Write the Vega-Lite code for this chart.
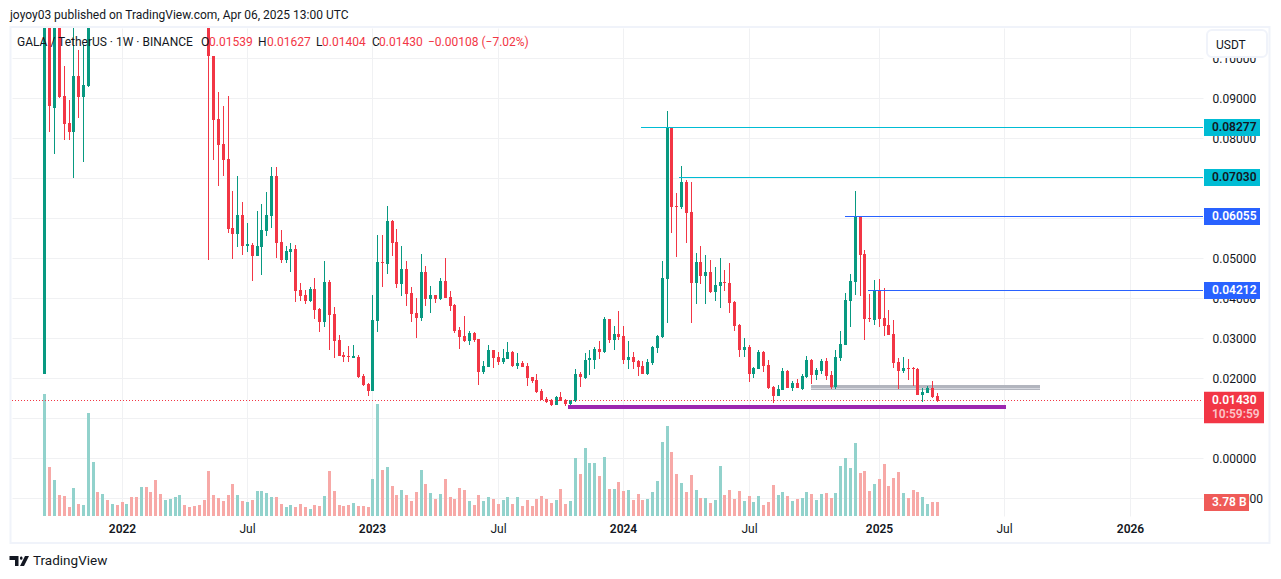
{"$schema":"https://vega.github.io/schema/vega-lite/v6.json","width":1191,"height":488,"padding":{"left":12,"top":28,"right":78,"bottom":63},"autosize":{"type":"none"},"background":"#ffffff","config":{"font":"Roboto","view":{"stroke":null}},
"datasets":{"bars":[
{"d":"2021-09-13","o":0.0211,"h":0.27,"l":0.0211,"c":0.25,"v":32.9},
{"d":"2021-09-20","o":0.25,"h":0.28,"l":0.0814,"c":0.0879,"v":13.2},
{"d":"2021-09-27","o":0.0876,"h":0.2,"l":0.0761,"c":0.16,"v":9.7},
{"d":"2021-10-04","o":0.16,"h":0.18,"l":0.09,"c":0.0902,"v":5.7},
{"d":"2021-10-11","o":0.0906,"h":0.0979,"l":0.0796,"c":0.0836,"v":5.4},
{"d":"2021-10-18","o":0.0838,"h":0.0894,"l":0.0796,"c":0.0816,"v":2.4},
{"d":"2021-10-25","o":0.0816,"h":0.115,"l":0.0699,"c":0.0956,"v":7.6},
{"d":"2021-11-01","o":0.0956,"h":0.1021,"l":0.0851,"c":0.0903,"v":3.2},
{"d":"2021-11-08","o":0.0903,"h":0.1033,"l":0.0741,"c":0.0933,"v":3.0},
{"d":"2021-11-15","o":0.0931,"h":0.32,"l":0.0928,"c":0.3,"v":27.8},
{"d":"2021-11-22","o":0.3,"h":0.7,"l":0.28,"c":0.6,"v":14.6},
{"d":"2021-11-29","o":0.6,"h":0.65,"l":0.45,"c":0.5,"v":6.5},
{"d":"2021-12-06","o":0.5,"h":0.7,"l":0.45,"c":0.65,"v":5.9},
{"d":"2021-12-13","o":0.65,"h":0.68,"l":0.5,"c":0.55,"v":4.3},
{"d":"2021-12-20","o":0.55,"h":0.66,"l":0.5,"c":0.6,"v":3.2},
{"d":"2021-12-27","o":0.6,"h":0.62,"l":0.45,"c":0.5,"v":3.0},
{"d":"2022-01-03","o":0.5,"h":0.52,"l":0.38,"c":0.4,"v":3.8},
{"d":"2022-01-10","o":0.4,"h":0.47,"l":0.38,"c":0.44,"v":3.2},
{"d":"2022-01-17","o":0.44,"h":0.46,"l":0.36,"c":0.38,"v":5.1},
{"d":"2022-01-24","o":0.38,"h":0.39,"l":0.27,"c":0.3,"v":5.1},
{"d":"2022-01-31","o":0.3,"h":0.38,"l":0.28,"c":0.36,"v":7.8},
{"d":"2022-02-07","o":0.36,"h":0.38,"l":0.29,"c":0.3,"v":7.8},
{"d":"2022-02-14","o":0.3,"h":0.32,"l":0.26,"c":0.27,"v":6.5},
{"d":"2022-02-21","o":0.27,"h":0.28,"l":0.2,"c":0.22,"v":9.7},
{"d":"2022-02-28","o":0.22,"h":0.24,"l":0.19,"c":0.2,"v":5.9},
{"d":"2022-03-07","o":0.2,"h":0.23,"l":0.19,"c":0.22,"v":4.3},
{"d":"2022-03-14","o":0.22,"h":0.25,"l":0.21,"c":0.24,"v":4.6},
{"d":"2022-03-21","o":0.24,"h":0.27,"l":0.23,"c":0.26,"v":5.1},
{"d":"2022-03-28","o":0.26,"h":0.31,"l":0.25,"c":0.29,"v":5.7},
{"d":"2022-04-04","o":0.29,"h":0.3,"l":0.26,"c":0.27,"v":3.0},
{"d":"2022-04-11","o":0.27,"h":0.28,"l":0.24,"c":0.25,"v":2.4},
{"d":"2022-04-18","o":0.25,"h":0.26,"l":0.22,"c":0.23,"v":2.7},
{"d":"2022-04-25","o":0.23,"h":0.24,"l":0.2,"c":0.21,"v":3.0},
{"d":"2022-05-02","o":0.21,"h":0.22,"l":0.18,"c":0.19,"v":4.3},
{"d":"2022-05-09","o":0.19,"h":0.2,"l":0.0496,"c":0.1004,"v":12.2},
{"d":"2022-05-16","o":0.1006,"h":0.1006,"l":0.0746,"c":0.0846,"v":5.7},
{"d":"2022-05-23","o":0.0848,"h":0.0916,"l":0.0679,"c":0.0783,"v":4.9},
{"d":"2022-05-30","o":0.0786,"h":0.0881,"l":0.0706,"c":0.0746,"v":4.1},
{"d":"2022-06-06","o":0.0748,"h":0.0906,"l":0.0562,"c":0.0572,"v":5.7},
{"d":"2022-06-13","o":0.0576,"h":0.0668,"l":0.0498,"c":0.0561,"v":8.6},
{"d":"2022-06-20","o":0.0561,"h":0.0706,"l":0.0528,"c":0.0608,"v":5.7},
{"d":"2022-06-27","o":0.0608,"h":0.0641,"l":0.0508,"c":0.0531,"v":4.1},
{"d":"2022-07-04","o":0.0531,"h":0.0588,"l":0.0516,"c":0.0534,"v":3.8},
{"d":"2022-07-11","o":0.0533,"h":0.0537,"l":0.0443,"c":0.0506,"v":4.3},
{"d":"2022-07-18","o":0.0506,"h":0.0618,"l":0.0506,"c":0.0531,"v":6.8},
{"d":"2022-07-25","o":0.0528,"h":0.0636,"l":0.0458,"c":0.0571,"v":6.8},
{"d":"2022-08-01","o":0.0568,"h":0.0666,"l":0.0556,"c":0.0608,"v":6.2},
{"d":"2022-08-08","o":0.0606,"h":0.0728,"l":0.0576,"c":0.0706,"v":5.1},
{"d":"2022-08-15","o":0.0706,"h":0.0728,"l":0.0501,"c":0.0538,"v":5.1},
{"d":"2022-08-22","o":0.0541,"h":0.0571,"l":0.0488,"c":0.0496,"v":3.2},
{"d":"2022-08-29","o":0.0496,"h":0.0531,"l":0.0488,"c":0.0518,"v":2.4},
{"d":"2022-09-05","o":0.0516,"h":0.0538,"l":0.0466,"c":0.0523,"v":3.0},
{"d":"2022-09-12","o":0.0523,"h":0.0533,"l":0.0391,"c":0.0418,"v":2.4},
{"d":"2022-09-19","o":0.0421,"h":0.0438,"l":0.0393,"c":0.0406,"v":3.2},
{"d":"2022-09-26","o":0.0408,"h":0.0421,"l":0.0386,"c":0.0393,"v":2.4},
{"d":"2022-10-03","o":0.0393,"h":0.0428,"l":0.0391,"c":0.0423,"v":1.9},
{"d":"2022-10-10","o":0.0423,"h":0.0451,"l":0.0348,"c":0.0371,"v":3.0},
{"d":"2022-10-17","o":0.0373,"h":0.0376,"l":0.0316,"c":0.0341,"v":2.7},
{"d":"2022-10-24","o":0.0341,"h":0.0493,"l":0.0328,"c":0.0441,"v":5.4},
{"d":"2022-10-31","o":0.0441,"h":0.0446,"l":0.0271,"c":0.0358,"v":12.2},
{"d":"2022-11-07","o":0.0361,"h":0.0378,"l":0.0251,"c":0.0293,"v":6.8},
{"d":"2022-11-14","o":0.0296,"h":0.0308,"l":0.0256,"c":0.0256,"v":3.0},
{"d":"2022-11-21","o":0.0258,"h":0.0266,"l":0.0241,"c":0.0253,"v":2.7},
{"d":"2022-11-28","o":0.0256,"h":0.0281,"l":0.0241,"c":0.0253,"v":3.0},
{"d":"2022-12-05","o":0.0251,"h":0.0283,"l":0.0251,"c":0.0254,"v":3.5},
{"d":"2022-12-12","o":0.0253,"h":0.0258,"l":0.0201,"c":0.0203,"v":2.7},
{"d":"2022-12-19","o":0.0206,"h":0.0211,"l":0.0181,"c":0.0183,"v":2.7},
{"d":"2022-12-26","o":0.0186,"h":0.0188,"l":0.0156,"c":0.0168,"v":2.4},
{"d":"2023-01-02","o":0.0168,"h":0.0408,"l":0.0168,"c":0.0346,"v":10.0},
{"d":"2023-01-09","o":0.0343,"h":0.0558,"l":0.0316,"c":0.0491,"v":30.2},
{"d":"2023-01-16","o":0.0491,"h":0.0558,"l":0.0428,"c":0.0488,"v":12.4},
{"d":"2023-01-23","o":0.0486,"h":0.0631,"l":0.0461,"c":0.0593,"v":13.2},
{"d":"2023-01-30","o":0.0593,"h":0.0596,"l":0.0506,"c":0.0538,"v":8.1},
{"d":"2023-02-06","o":0.0541,"h":0.0573,"l":0.0426,"c":0.0436,"v":5.7},
{"d":"2023-02-13","o":0.0436,"h":0.0531,"l":0.0406,"c":0.0473,"v":7.0},
{"d":"2023-02-20","o":0.0473,"h":0.0493,"l":0.0381,"c":0.0411,"v":5.7},
{"d":"2023-02-27","o":0.0413,"h":0.0428,"l":0.0341,"c":0.0361,"v":4.1},
{"d":"2023-03-06","o":0.0363,"h":0.0401,"l":0.0301,"c":0.0351,"v":6.5},
{"d":"2023-03-13","o":0.0351,"h":0.0511,"l":0.0343,"c":0.0466,"v":12.4},
{"d":"2023-03-20","o":0.0466,"h":0.0481,"l":0.0381,"c":0.0398,"v":8.6},
{"d":"2023-03-27","o":0.0398,"h":0.0431,"l":0.0363,"c":0.0408,"v":6.2},
{"d":"2023-04-03","o":0.0408,"h":0.0408,"l":0.0388,"c":0.0398,"v":4.6},
{"d":"2023-04-10","o":0.0398,"h":0.0451,"l":0.0396,"c":0.0443,"v":5.9},
{"d":"2023-04-17","o":0.0443,"h":0.0501,"l":0.0401,"c":0.0401,"v":10.0},
{"d":"2023-04-24","o":0.0403,"h":0.0418,"l":0.0368,"c":0.0381,"v":5.1},
{"d":"2023-05-01","o":0.0383,"h":0.0386,"l":0.0313,"c":0.0318,"v":4.6},
{"d":"2023-05-08","o":0.0321,"h":0.0328,"l":0.0273,"c":0.0303,"v":7.6},
{"d":"2023-05-15","o":0.0306,"h":0.0356,"l":0.0291,"c":0.0293,"v":7.0},
{"d":"2023-05-22","o":0.0293,"h":0.0318,"l":0.0283,"c":0.0313,"v":4.1},
{"d":"2023-05-29","o":0.0313,"h":0.0316,"l":0.0291,"c":0.0296,"v":3.0},
{"d":"2023-06-05","o":0.0298,"h":0.0298,"l":0.0183,"c":0.0216,"v":5.7},
{"d":"2023-06-12","o":0.0216,"h":0.0243,"l":0.0211,"c":0.0231,"v":4.1},
{"d":"2023-06-19","o":0.0228,"h":0.0283,"l":0.0228,"c":0.0271,"v":5.1},
{"d":"2023-06-26","o":0.0271,"h":0.0271,"l":0.0226,"c":0.0251,"v":4.6},
{"d":"2023-07-03","o":0.0253,"h":0.0266,"l":0.0233,"c":0.0241,"v":3.2},
{"d":"2023-07-10","o":0.0241,"h":0.0273,"l":0.0236,"c":0.0251,"v":4.3},
{"d":"2023-07-17","o":0.0248,"h":0.0291,"l":0.0248,"c":0.0266,"v":5.1},
{"d":"2023-07-24","o":0.0266,"h":0.0268,"l":0.0228,"c":0.0231,"v":3.2},
{"d":"2023-07-31","o":0.0231,"h":0.0263,"l":0.0223,"c":0.0238,"v":5.1},
{"d":"2023-08-07","o":0.0238,"h":0.0243,"l":0.0228,"c":0.0228,"v":2.7},
{"d":"2023-08-14","o":0.0231,"h":0.0238,"l":0.0181,"c":0.0201,"v":4.3},
{"d":"2023-08-21","o":0.0203,"h":0.0203,"l":0.0188,"c":0.0193,"v":2.7},
{"d":"2023-08-28","o":0.0196,"h":0.0211,"l":0.0163,"c":0.0166,"v":4.6},
{"d":"2023-09-04","o":0.0168,"h":0.0173,"l":0.0146,"c":0.0146,"v":5.4},
{"d":"2023-09-11","o":0.0148,"h":0.0153,"l":0.0138,"c":0.0141,"v":4.6},
{"d":"2023-09-18","o":0.0146,"h":0.0148,"l":0.0131,"c":0.0133,"v":3.5},
{"d":"2023-09-25","o":0.0133,"h":0.0156,"l":0.0133,"c":0.0153,"v":4.3},
{"d":"2023-10-02","o":0.0153,"h":0.0166,"l":0.0143,"c":0.0143,"v":7.3},
{"d":"2023-10-09","o":0.0146,"h":0.0148,"l":0.0131,"c":0.0136,"v":3.2},
{"d":"2023-10-16","o":0.0136,"h":0.0146,"l":0.0128,"c":0.0146,"v":4.1},
{"d":"2023-10-23","o":0.0143,"h":0.0223,"l":0.0141,"c":0.0211,"v":15.7},
{"d":"2023-10-30","o":0.0211,"h":0.0216,"l":0.0178,"c":0.0203,"v":11.3},
{"d":"2023-11-06","o":0.0201,"h":0.0263,"l":0.0198,"c":0.0246,"v":18.4},
{"d":"2023-11-13","o":0.0246,"h":0.0271,"l":0.0208,"c":0.0249,"v":14.3},
{"d":"2023-11-20","o":0.0246,"h":0.0278,"l":0.0223,"c":0.0273,"v":14.3},
{"d":"2023-11-27","o":0.0273,"h":0.0293,"l":0.0248,"c":0.0266,"v":10.8},
{"d":"2023-12-04","o":0.0266,"h":0.0353,"l":0.0263,"c":0.0348,"v":15.9},
{"d":"2023-12-11","o":0.0348,"h":0.0348,"l":0.0288,"c":0.0296,"v":7.3},
{"d":"2023-12-18","o":0.0296,"h":0.0331,"l":0.0271,"c":0.0311,"v":7.3},
{"d":"2023-12-25","o":0.0311,"h":0.0368,"l":0.0296,"c":0.0303,"v":9.2},
{"d":"2024-01-01","o":0.0306,"h":0.0331,"l":0.0236,"c":0.0246,"v":6.8},
{"d":"2024-01-08","o":0.0246,"h":0.0293,"l":0.0223,"c":0.0253,"v":7.0},
{"d":"2024-01-15","o":0.0253,"h":0.0266,"l":0.0223,"c":0.0241,"v":4.3},
{"d":"2024-01-22","o":0.0243,"h":0.0246,"l":0.0206,"c":0.0228,"v":5.9},
{"d":"2024-01-29","o":0.0231,"h":0.0243,"l":0.0211,"c":0.0211,"v":4.3},
{"d":"2024-02-05","o":0.0211,"h":0.0248,"l":0.0208,"c":0.0241,"v":4.6},
{"d":"2024-02-12","o":0.0238,"h":0.0281,"l":0.0233,"c":0.0278,"v":6.5},
{"d":"2024-02-19","o":0.0276,"h":0.0308,"l":0.0263,"c":0.0306,"v":9.5},
{"d":"2024-02-26","o":0.0303,"h":0.0493,"l":0.0301,"c":0.0451,"v":20.0},
{"d":"2024-03-04","o":0.0448,"h":0.0868,"l":0.0338,"c":0.0828,"v":24.3},
{"d":"2024-03-11","o":0.0828,"h":0.0828,"l":0.0563,"c":0.0628,"v":17.3},
{"d":"2024-03-18","o":0.0631,"h":0.0663,"l":0.0503,"c":0.0628,"v":11.3},
{"d":"2024-03-25","o":0.0628,"h":0.0731,"l":0.0623,"c":0.0691,"v":8.9},
{"d":"2024-04-01","o":0.0691,"h":0.0696,"l":0.0538,"c":0.0613,"v":6.5},
{"d":"2024-04-08","o":0.0616,"h":0.0691,"l":0.0338,"c":0.0438,"v":11.1},
{"d":"2024-04-15","o":0.0438,"h":0.0513,"l":0.0386,"c":0.0491,"v":7.0},
{"d":"2024-04-22","o":0.0491,"h":0.0531,"l":0.0436,"c":0.0456,"v":4.9},
{"d":"2024-04-29","o":0.0456,"h":0.0508,"l":0.0386,"c":0.0466,"v":4.9},
{"d":"2024-05-06","o":0.0466,"h":0.0496,"l":0.0413,"c":0.0416,"v":3.5},
{"d":"2024-05-13","o":0.0416,"h":0.0478,"l":0.0393,"c":0.0433,"v":4.3},
{"d":"2024-05-20","o":0.0431,"h":0.0501,"l":0.0376,"c":0.0441,"v":13.5},
{"d":"2024-05-27","o":0.0441,"h":0.0471,"l":0.0418,"c":0.0438,"v":5.7},
{"d":"2024-06-03","o":0.0438,"h":0.0488,"l":0.0363,"c":0.0388,"v":7.0},
{"d":"2024-06-10","o":0.0391,"h":0.0393,"l":0.0318,"c":0.0331,"v":4.6},
{"d":"2024-06-17","o":0.0333,"h":0.0336,"l":0.0253,"c":0.0271,"v":6.8},
{"d":"2024-06-24","o":0.0271,"h":0.0301,"l":0.0253,"c":0.0278,"v":4.1},
{"d":"2024-07-01","o":0.0278,"h":0.0283,"l":0.0191,"c":0.0211,"v":5.4},
{"d":"2024-07-08","o":0.0211,"h":0.0228,"l":0.0201,"c":0.0226,"v":3.8},
{"d":"2024-07-15","o":0.0223,"h":0.0271,"l":0.0223,"c":0.0266,"v":5.4},
{"d":"2024-07-22","o":0.0266,"h":0.0268,"l":0.0216,"c":0.0231,"v":3.0},
{"d":"2024-07-29","o":0.0233,"h":0.0246,"l":0.0173,"c":0.0176,"v":3.8},
{"d":"2024-08-05","o":0.0178,"h":0.0181,"l":0.0138,"c":0.0156,"v":8.4},
{"d":"2024-08-12","o":0.0156,"h":0.0183,"l":0.0156,"c":0.0173,"v":5.7},
{"d":"2024-08-19","o":0.0171,"h":0.0226,"l":0.0171,"c":0.0218,"v":6.5},
{"d":"2024-08-26","o":0.0218,"h":0.0221,"l":0.0176,"c":0.0176,"v":5.4},
{"d":"2024-09-02","o":0.0176,"h":0.0193,"l":0.0168,"c":0.0188,"v":4.1},
{"d":"2024-09-09","o":0.0188,"h":0.0198,"l":0.0176,"c":0.0176,"v":4.6},
{"d":"2024-09-16","o":0.0173,"h":0.0211,"l":0.0171,"c":0.0206,"v":4.9},
{"d":"2024-09-23","o":0.0203,"h":0.0256,"l":0.0201,"c":0.0246,"v":6.5},
{"d":"2024-09-30","o":0.0246,"h":0.0248,"l":0.0186,"c":0.0208,"v":5.9},
{"d":"2024-10-07","o":0.0208,"h":0.0226,"l":0.0196,"c":0.0221,"v":4.3},
{"d":"2024-10-14","o":0.0218,"h":0.0248,"l":0.0211,"c":0.0243,"v":5.9},
{"d":"2024-10-21","o":0.0243,"h":0.0251,"l":0.0196,"c":0.0206,"v":6.2},
{"d":"2024-10-28","o":0.0208,"h":0.0218,"l":0.0173,"c":0.0178,"v":4.9},
{"d":"2024-11-04","o":0.0178,"h":0.0271,"l":0.0173,"c":0.0253,"v":6.2},
{"d":"2024-11-11","o":0.0251,"h":0.0318,"l":0.0243,"c":0.0286,"v":13.5},
{"d":"2024-11-18","o":0.0283,"h":0.0413,"l":0.0283,"c":0.0396,"v":15.7},
{"d":"2024-11-25","o":0.0393,"h":0.0461,"l":0.0328,"c":0.0443,"v":13.0},
{"d":"2024-12-02","o":0.0441,"h":0.0668,"l":0.0408,"c":0.0606,"v":19.7},
{"d":"2024-12-09","o":0.0606,"h":0.0606,"l":0.0406,"c":0.0508,"v":11.6},
{"d":"2024-12-16","o":0.0511,"h":0.0521,"l":0.0296,"c":0.0348,"v":12.2},
{"d":"2024-12-23","o":0.0351,"h":0.0411,"l":0.0341,"c":0.0348,"v":6.8},
{"d":"2024-12-30","o":0.0346,"h":0.0446,"l":0.0333,"c":0.0421,"v":8.6},
{"d":"2025-01-06","o":0.0421,"h":0.0448,"l":0.0328,"c":0.0348,"v":10.0},
{"d":"2025-01-13","o":0.0351,"h":0.0426,"l":0.0306,"c":0.0331,"v":14.0},
{"d":"2025-01-20","o":0.0333,"h":0.0371,"l":0.0308,"c":0.0308,"v":8.1},
{"d":"2025-01-27","o":0.0311,"h":0.0346,"l":0.0226,"c":0.0238,"v":10.3},
{"d":"2025-02-03","o":0.0241,"h":0.0251,"l":0.0173,"c":0.0218,"v":11.9},
{"d":"2025-02-10","o":0.0218,"h":0.0253,"l":0.0213,"c":0.0226,"v":6.2},
{"d":"2025-02-17","o":0.0226,"h":0.0248,"l":0.0196,"c":0.0223,"v":4.9},
{"d":"2025-02-24","o":0.0226,"h":0.0228,"l":0.0181,"c":0.0223,"v":7.0},
{"d":"2025-03-03","o":0.0223,"h":0.0226,"l":0.0158,"c":0.0158,"v":6.5},
{"d":"2025-03-10","o":0.0158,"h":0.0176,"l":0.0141,"c":0.0166,"v":5.1},
{"d":"2025-03-17","o":0.0163,"h":0.0181,"l":0.0163,"c":0.0176,"v":3.2},
{"d":"2025-03-24","o":0.0176,"h":0.0193,"l":0.0151,"c":0.0153,"v":3.8},
{"d":"2025-03-31","o":0.01539,"h":0.01627,"l":0.01404,"c":0.0143,"v":3.78}
],
"levels":[
{"d":"2024-01-27","d2":"2026-04-21T12:00:00Z","p":0.08277,"k":"cyan","t":"0.08277"},
{"d":"2024-03-22","d2":"2026-04-21T12:00:00Z","p":0.0703,"k":"cyan","t":"0.07030"},
{"d":"2024-11-18","d2":"2026-04-21T12:00:00Z","p":0.06055,"k":"blue","t":"0.06055"},
{"d":"2024-12-22","d2":"2026-04-21T12:00:00Z","p":0.04212,"k":"blue","t":"0.04212"}
],
"zone":[{"d":"2024-09-29","d2":"2025-08-28","p":0.01825,"p2":0.017,"m":0.0176}],
"floor":[{"d":"2023-10-13","d2":"2025-07-09","p":0.01275}],
"last":[{"d":"2021-07-28","d2":"2026-04-21T12:00:00Z","p":0.0143}],
"lastVol":[{"v":3.78}],
"one":[{"n":1}]
},
"resolve":{"scale":{"y":"independent"}},
"layer":[
{"data":{"name":"bars"},
"layer":[
{"mark":{"type":"bar","size":3,"xOffset":0.5},
"encoding":{
"x":{"field":"d","type":"temporal","scale":{"type":"utc","domain":["2021-07-28T00:00:00Z","2026-04-21T12:00:00Z"],"padding":0,"round":true},"title":null,
"axis":{"values":["2022-01-03","2022-07-04","2023-01-02","2023-07-03","2024-01-01","2024-07-01","2025-01-06","2025-07-07","2026-01-05"],"labelExpr":"utcmonth(datum.value)==0 ? utcyear(datum.value) : 'Jul'","grid":true,"gridColor":"#f0f1f3","gridWidth":1,"domain":false,"ticks":false,"labelColor":"#131722","labelFontSize":12,"labelPadding":7,"labelFontWeight":{"condition":{"test":"utcmonth(datum.value)==0","value":600},"value":400},"labelFlush":false,"labelOverlap":false}},
"y":{"field":"v","type":"quantitative","scale":{"domain":[0,131.76],"nice":false,"zero":true,"round":true},"axis":null},
"color":{"condition":{"test":"datum.c>=datum.o","value":"#92D2CC"},"value":"#F7A9A7"}}},
{"data":{"name":"lastVol"},"mark":{"type":"rule","strokeWidth":17,"color":"#EF5B58","yOffset":0.5},
"encoding":{"x":{"value":1192},"x2":{"value":1237},"y":{"field":"v","type":"quantitative","scale":{"domain":[0,131.76],"nice":false,"zero":true,"round":true},"axis":null}}},
{"data":{"name":"lastVol"},"mark":{"type":"text","text":"3.78 B","align":"left","baseline":"middle","color":"#ffffff","fontSize":12,"fontWeight":600},
"encoding":{"x":{"value":1200},"y":{"field":"v","type":"quantitative","scale":{"domain":[0,131.76],"nice":false,"zero":true,"round":true},"axis":null}}}
]},
{"encoding":{"x":{"field":"d","type":"temporal","scale":{"type":"utc","domain":["2021-07-28T00:00:00Z","2026-04-21T12:00:00Z"],"padding":0,"round":true},"title":null}},
"layer":[
{"data":{"name":"zone"},"mark":{"type":"rect","color":"#B2B5BE"},
"encoding":{"x2":{"field":"d2"},"y":{"field":"p","type":"quantitative","title":null,"scale":{"domain":[-0.0145,0.1075],"nice":false,"zero":false,"round":true},
"axis":{"orient":"right","values":[-0.01,0,0.01,0.02,0.03,0.04,0.05,0.06,0.07,0.08,0.09,0.1],"format":".5f","grid":true,"gridColor":"#f0f1f3","domain":false,"ticks":false,"labelColor":"#131722","labelFontSize":12,"labelAlign":"left","labelPadding":9,"labelOverlap":false,"labelFlush":false,"title":null}},"y2":{"field":"p2"}}},
{"data":{"name":"zone"},"mark":{"type":"rule","color":"#D6D8DF","strokeWidth":1,"yOffset":0.5},
"encoding":{"x2":{"field":"d2"},"y":{"field":"m","type":"quantitative","scale":{"domain":[-0.0145,0.1075],"nice":false,"zero":false,"round":true}}}},
{"data":{"name":"bars"},"mark":{"type":"rule","strokeWidth":1,"clip":true,"xOffset":0.5},
"encoding":{"y":{"field":"l","type":"quantitative","scale":{"domain":[-0.0145,0.1075],"nice":false,"zero":false,"round":true}},"y2":{"field":"h"},
"color":{"condition":{"test":"datum.c>=datum.o","value":"#089981"},"value":"#F23645"}}},
{"data":{"name":"bars"},"mark":{"type":"bar","size":3,"clip":true,"xOffset":0.5},
"encoding":{"y":{"field":"o","type":"quantitative","scale":{"domain":[-0.0145,0.1075],"nice":false,"zero":false,"round":true}},"y2":{"field":"c"},
"color":{"condition":{"test":"datum.c>=datum.o","value":"#089981"},"value":"#F23645"}}},
{"data":{"name":"floor"},"mark":{"type":"rule","strokeWidth":4,"color":"#9C27B0"},
"encoding":{"x2":{"field":"d2"},"y":{"field":"p","type":"quantitative","scale":{"domain":[-0.0145,0.1075],"nice":false,"zero":false,"round":true}}}},
{"data":{"name":"last"},"mark":{"type":"rule","strokeWidth":1,"strokeDash":[1,2],"color":"#F23645","yOffset":-0.5},
"encoding":{"x2":{"field":"d2"},"y":{"field":"p","type":"quantitative","scale":{"domain":[-0.0145,0.1075],"nice":false,"zero":false,"round":true}}}},
{"data":{"name":"levels"},"mark":{"type":"rule","strokeWidth":1,"yOffset":0.5},
"encoding":{"x2":{"field":"d2"},"y":{"field":"p","type":"quantitative","scale":{"domain":[-0.0145,0.1075],"nice":false,"zero":false,"round":true}},
"color":{"field":"k","type":"nominal","scale":{"domain":["cyan","blue"],"range":["#00BCD4","#2962FF"]},"legend":null}}},
{"data":{"name":"levels"},"mark":{"type":"rule","strokeWidth":17,"yOffset":0.5},
"encoding":{"x":{"value":1192},"x2":{"value":1248},"y":{"field":"p","type":"quantitative","scale":{"domain":[-0.0145,0.1075],"nice":false,"zero":false,"round":true}},
"color":{"field":"k","type":"nominal","scale":{"domain":["cyan","blue"],"range":["#00BCD4","#2962FF"]},"legend":null}}},
{"data":{"name":"levels"},"mark":{"type":"text","align":"left","baseline":"middle","fontSize":12,"fontWeight":600},
"encoding":{"x":{"value":1200},"y":{"field":"p","type":"quantitative","scale":{"domain":[-0.0145,0.1075],"nice":false,"zero":false,"round":true}},"text":{"field":"t"},
"color":{"condition":{"test":"datum.k=='cyan'","value":"#131722"},"value":"#ffffff"}}},
{"data":{"name":"last"},"mark":{"type":"rule","strokeWidth":31.5,"color":"#F23645","yOffset":6.5},
"encoding":{"x":{"value":1192},"x2":{"value":1252},"y":{"field":"p","type":"quantitative","scale":{"domain":[-0.0145,0.1075],"nice":false,"zero":false,"round":true}}}},
{"data":{"name":"last"},"mark":{"type":"text","text":"0.01430","align":"left","baseline":"middle","fontSize":12,"fontWeight":600,"color":"#ffffff","yOffset":-1},
"encoding":{"x":{"value":1200},"y":{"field":"p","type":"quantitative","scale":{"domain":[-0.0145,0.1075],"nice":false,"zero":false,"round":true}}}},
{"data":{"name":"last"},"mark":{"type":"text","text":"10:59:59","align":"left","baseline":"middle","fontSize":12,"fontWeight":600,"color":"#FBC4C8","yOffset":13},
"encoding":{"x":{"value":1200},"y":{"field":"p","type":"quantitative","scale":{"domain":[-0.0145,0.1075],"nice":false,"zero":false,"round":true}}}}
]},
{"data":{"name":"one"},"mark":{"type":"rect","fill":null,"stroke":"#F0F3FA","strokeWidth":2},"encoding":{"x":{"value":-1.5},"x2":{"value":1257.5},"y":{"value":-1},"y2":{"value":515}}},
{"data":{"name":"one"},"mark":{"type":"rect","fill":"#ffffff","stroke":"#F0F3FA","strokeWidth":2,"cornerRadius":5},"encoding":{"x":{"value":1195},"x2":{"value":1255},"y":{"value":2},"y2":{"value":29}}},
{"data":{"name":"one"},"mark":{"type":"text","text":"USDT","align":"left","baseline":"middle","fontSize":12,"color":"#131722"},"encoding":{"x":{"value":1204},"y":{"value":16.5}}},
{"data":{"name":"one"},"mark":{"type":"text","text":"joyoy03 published on TradingView.com, Apr 06, 2025 13:00 UTC","align":"left","baseline":"middle","fontSize":12,"color":"#131722"},"encoding":{"x":{"value":-2},"y":{"value":-13}}},
{"data":{"name":"one"},"mark":{"type":"text","text":"GALA / TetherUS · 1W · BINANCE","align":"left","baseline":"middle","fontSize":12,"color":"#131722"},"encoding":{"x":{"value":5},"y":{"value":13.5}}},
{"data":{"name":"one"},"mark":{"type":"text","text":"O","align":"left","baseline":"middle","fontSize":12,"color":"#131722"},"encoding":{"x":{"value":189},"y":{"value":13.5}}},
{"data":{"name":"one"},"mark":{"type":"text","text":"0.01539","align":"left","baseline":"middle","fontSize":12,"color":"#F23645"},"encoding":{"x":{"value":197},"y":{"value":13.5}}},
{"data":{"name":"one"},"mark":{"type":"text","text":"H","align":"left","baseline":"middle","fontSize":12,"color":"#131722"},"encoding":{"x":{"value":246},"y":{"value":13.5}}},
{"data":{"name":"one"},"mark":{"type":"text","text":"0.01627","align":"left","baseline":"middle","fontSize":12,"color":"#F23645"},"encoding":{"x":{"value":255},"y":{"value":13.5}}},
{"data":{"name":"one"},"mark":{"type":"text","text":"L","align":"left","baseline":"middle","fontSize":12,"color":"#131722"},"encoding":{"x":{"value":304},"y":{"value":13.5}}},
{"data":{"name":"one"},"mark":{"type":"text","text":"0.01404","align":"left","baseline":"middle","fontSize":12,"color":"#F23645"},"encoding":{"x":{"value":310},"y":{"value":13.5}}},
{"data":{"name":"one"},"mark":{"type":"text","text":"C","align":"left","baseline":"middle","fontSize":12,"color":"#131722"},"encoding":{"x":{"value":360},"y":{"value":13.5}}},
{"data":{"name":"one"},"mark":{"type":"text","text":"0.01430","align":"left","baseline":"middle","fontSize":12,"color":"#F23645"},"encoding":{"x":{"value":367},"y":{"value":13.5}}},
{"data":{"name":"one"},"mark":{"type":"text","text":"−0.00108 (−7.02%)","align":"left","baseline":"middle","fontSize":12,"color":"#F23645"},"encoding":{"x":{"value":416},"y":{"value":13.5}}},
{"data":{"name":"one"},"mark":{"type":"point","size":400,"filled":true,"opacity":1,"color":"#131722","shape":"M-1 -.5H-.1V.5H-.45V-.1H-1ZM.05 -.28A.13 .13 0 1 1 .3 -.28A.13 .13 0 1 1 .05 -.28ZM.55 -.5H.95L.45 .5H.05Z"},"encoding":{"x":{"value":7.5},"y":{"value":533}}},
{"data":{"name":"one"},"mark":{"type":"text","text":"TradingView","align":"left","baseline":"middle","fontSize":13.5,"color":"#131722"},"encoding":{"x":{"value":21},"y":{"value":533}}}
]}
